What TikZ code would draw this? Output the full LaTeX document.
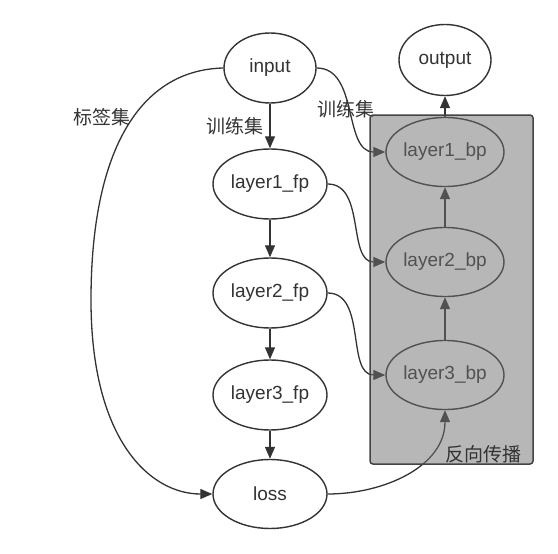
\documentclass[tikz,border=0pt]{standalone}
\usepackage{fontspec}
\setmainfont{Liberation Sans}
\newfontfamily\cjk{Noto Sans CJK SC}
\usetikzlibrary{shapes.geometric,arrows.meta}
\definecolor{ink}{HTML}{333333}
\definecolor{boxedge}{HTML}{444444}
\definecolor{veil}{HTML}{707070}
\begin{document}
\begin{tikzpicture}[x=1pt,y=-1pt,
  every node/.style={font=\fontsize{19}{22}\selectfont, text=ink},
  elli/.style={ellipse, draw=ink, line width=1.4pt, fill=white, inner sep=0pt},
  fpnode/.style={elli, minimum width=114pt, minimum height=70pt},
  bpnode/.style={elli, minimum width=113pt, minimum height=69pt},
  iohnode/.style={elli, minimum width=92pt, minimum height=70pt},
  conn/.style={draw=ink, line width=1.3pt, -{Triangle[length=12pt,width=10pt]}},
  lbl/.style={font=\cjk\fontsize{19}{22}\selectfont, inner sep=0pt}
]
\useasboundingbox (0,0) rectangle (558,554);
\node[iohnode] (input) at (270,68) {input};
\node[iohnode, minimum height=71pt] (output) at (445,60) {output};
\node[fpnode] (l1fp) at (270,184) {layer1\_fp};
\node[fpnode] (l2fp) at (270,293) {layer2\_fp};
\node[fpnode] (l3fp) at (270,395) {layer3\_fp};
\node[fpnode, minimum height=69pt] (loss) at (270,494) {loss};
\node[bpnode] (l1bp) at (445,152) {layer1\_bp};
\node[bpnode] (l2bp) at (445,262) {layer2\_bp};
\node[bpnode] (l3bp) at (445,375) {layer3\_bp};
\coordinate (far) at (91,300);
% forward chain
\draw[conn] (input) -- (l1fp);
\draw[conn] (l1fp) -- (l2fp);
\draw[conn] (l2fp) -- (l3fp);
\draw[conn] (l3fp) -- (loss);
% backward chain
\draw[conn] (l3bp) -- (l2bp);
\draw[conn] (l2bp) -- (l1bp);
\draw[conn] (l1bp) -- (output);
% cross connectors
\draw[conn] (input.east) to[out=0,in=180] (l1bp.west);
\draw[conn] (l1fp.east) to[out=0,in=180] (l2bp.west);
\draw[conn] (l2fp.east) to[out=0,in=180] (l3bp.west);
\draw[conn] (loss.east) to[out=0,in=-90] (l3bp.south);
\draw[conn] (input.west) .. controls (140,70) and (91,150) .. (far)
  .. controls (91,440) and (150,494) .. (loss.west);
% labels
\node[lbl] (lab1) at (102,117.5) {标签集};
\node[lbl] (lab2) at (235,126) {训练集};
\node[lbl] (lab3) at (345.5,109) {训练集};
% backprop group overlay
\path[draw=boxedge, line width=1.5pt, rounded corners=3pt,
  fill=veil, fill opacity=0.5] (370,115) rectangle (533,464);
\node[lbl] (grp) at (483,454.5) {反向传播};
\end{tikzpicture}
\end{document}
